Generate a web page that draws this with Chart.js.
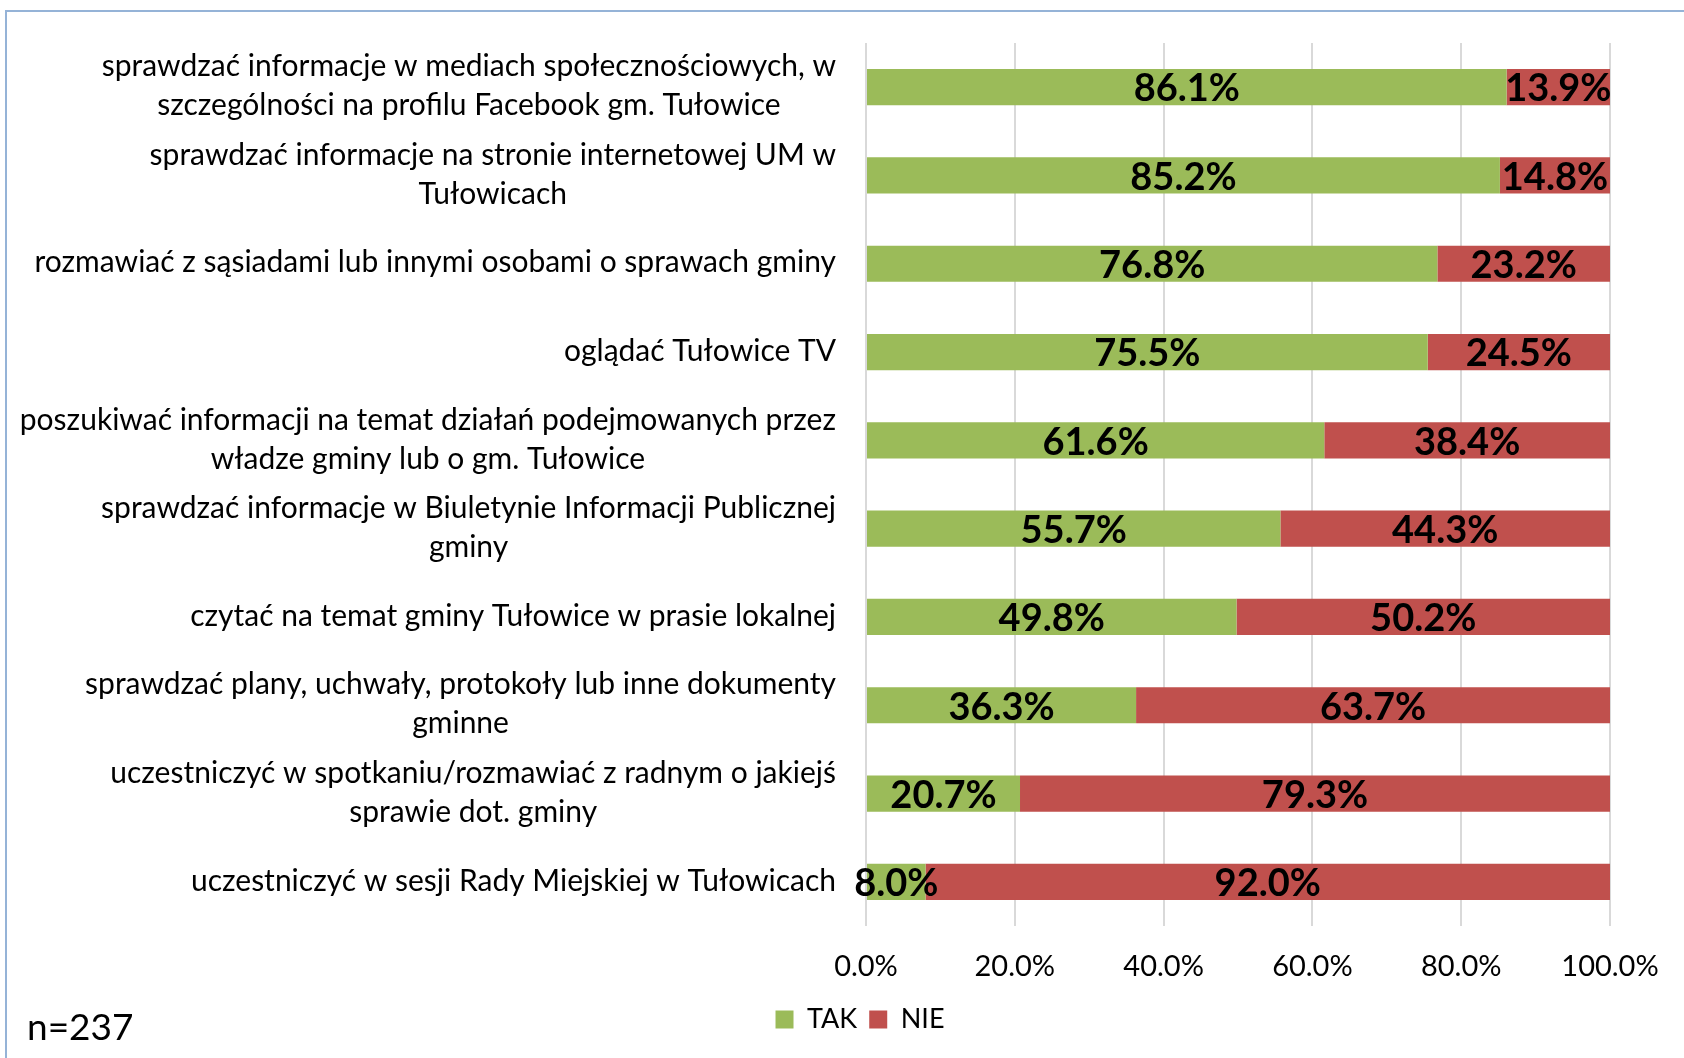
<!DOCTYPE html>
<html>
<head>
<meta charset="utf-8">
<script src="https://cdn.jsdelivr.net/npm/chart.js@4.4.0/dist/chart.umd.min.js"></script>
<style>
  html, body { margin: 0; padding: 0; background: #fff; overflow: hidden; }
  #frame { position: absolute; left: 5px; top: 10px; width: 2000px; height: 2000px; border: 2px solid #95b3d7; }
  #wrap { position: absolute; left: 0; top: 0; width: 1684px; height: 1058px; }
  #note { position: absolute; left: 27px; top: 1003px; font: 37px Lato, sans-serif; color: #000; }
</style>
</head>
<body>
<div id="frame"></div>
<div id="wrap"><canvas id="chart"></canvas></div>
<div id="note">n=237</div>
<script>
// dane z wykresu
var categories = [
    ['sprawdzać informacje w mediach społecznościowych, w', 'szczególności na profilu Facebook gm. Tułowice'],
    ['sprawdzać informacje na stronie internetowej UM w', 'Tułowicach'],
    ['rozmawiać z sąsiadami lub innymi osobami o sprawach gminy'],
    ['oglądać Tułowice TV'],
    ['poszukiwać informacji na temat działań podejmowanych przez', 'władze gminy lub o gm. Tułowice'],
    ['sprawdzać informacje w Biuletynie Informacji Publicznej', 'gminy'],
    ['czytać na temat gminy Tułowice w prasie lokalnej'],
    ['sprawdzać plany, uchwały, protokoły lub inne dokumenty', 'gminne'],
    ['uczestniczyć w spotkaniu/rozmawiać z radnym o jakiejś', 'sprawie dot. gminy'],
    ['uczestniczyć w sesji Rady Miejskiej w Tułowicach']
];
var takValues = [86.1, 85.2, 76.8, 75.5, 61.6, 55.7, 49.8, 36.3, 20.7, 8.0];
var nieValues = [13.9, 14.8, 23.2, 24.5, 38.4, 44.3, 50.2, 63.7, 79.3, 92.0];

Chart.defaults.font.family = 'Lato, sans-serif';
Chart.defaults.color = '#000';

// etykiety kategorii (wyśrodkowane w bloku, blok wyrównany do prawej)
var categoryLabels = {
    id: 'categoryLabels',
    afterDraw: function(chart) {
        var ctx = chart.ctx;
        var y = chart.scales.y;
        var lineH = 39;
        ctx.save();
        ctx.font = '30px Lato, sans-serif';
        ctx.fillStyle = '#000';
        ctx.textAlign = 'center';
        ctx.textBaseline = 'middle';
        categories.forEach(function(lines, i) {
            var w = Math.max.apply(null, lines.map(function(l) { return ctx.measureText(l).width; }));
            var cx = y.right - 30 - w / 2;
            var cy = y.getPixelForTick(i) - (lines.length - 1) * lineH / 2 - 1;
            lines.forEach(function(l, k) {
                ctx.fillText(l, cx, cy + k * lineH);
            });
        });
        ctx.restore();
    }
};

// wartości na słupkach
var barLabels = {
    id: 'barLabels',
    afterDatasetsDraw: function(chart) {
        var ctx = chart.ctx;
        ctx.save();
        ctx.font = 'bold 38px Lato, sans-serif';
        ctx.fillStyle = '#000';
        ctx.textAlign = 'center';
        ctx.textBaseline = 'middle';
        chart.data.datasets.forEach(function(ds, i) {
            chart.getDatasetMeta(i).data.forEach(function(bar, j) {
                var p = bar.getProps(['x', 'y', 'base'], true);
                ctx.fillText(ds.data[j].toFixed(1) + '%', (p.x + p.base) / 2, p.y + 2);
            });
        });
        ctx.restore();
    }
};

var ctx = document.getElementById('chart').getContext('2d');
var chart = new Chart(ctx, {
    type: 'bar',
    data: {
        labels: categories,
        datasets: [{
            label: 'TAK',
            data: takValues,
            backgroundColor: '#9bbb59',
            categoryPercentage: 1,
            barPercentage: 0.41
        }, {
            label: 'NIE',
            data: nieValues,
            backgroundColor: '#c0504d',
            categoryPercentage: 1,
            barPercentage: 0.41
        }]
    },
    options: {
        indexAxis: 'y',
        responsive: true,
        maintainAspectRatio: false,
        animation: false,
        layout: { padding: { left: 110, right: 74, top: 43, bottom: 15 } },
        plugins: {
            legend: {
                position: 'bottom',
                labels: { boxWidth: 18, boxHeight: 18, font: { size: 27 }, padding: 12 }
            },
            tooltip: { enabled: false }
        },
        scales: {
            x: {
                stacked: true,
                min: 0,
                max: 100,
                ticks: {
                    stepSize: 20,
                    padding: 23,
                    font: { size: 29 },
                    callback: function(v) { return v.toFixed(1) + '%'; }
                },
                grid: { color: '#d9d9d9', lineWidth: 2, drawTicks: false },
                border: { display: false },
                afterFit: function(scale) { scale.height = 68; }
            },
            y: {
                stacked: true,
                ticks: { display: false },
                grid: { display: false },
                border: { display: false },
                afterFit: function(scale) { scale.width = 756; }
            }
        }
    },
    plugins: [categoryLabels, barLabels]
});
</script>
</body>
</html>
